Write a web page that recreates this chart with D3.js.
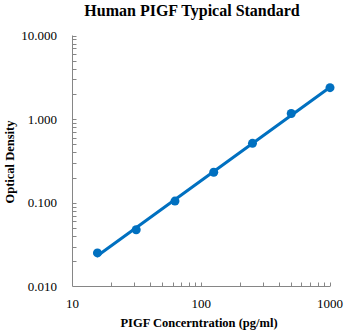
<!DOCTYPE html>
<html><head><meta charset="utf-8">
<script src="https://cdn.jsdelivr.net/npm/d3@7"></script>
<style>body{margin:0;background:#fff}</style>
</head><body>
<script>
const title = "Human PIGF Typical Standard";
const xTitle = "PIGF Concerntration (pg/ml)";
const yTitle = "Optical Density";
const concentrations = [15.625, 31.25, 62.5, 125, 250, 500, 1000];
const odValues = [0.0252, 0.0477, 0.105, 0.232, 0.514, 1.17, 2.38];
const xTickValues = [10, 100, 1000];
const yTickValues = [0.01, 0.1, 1, 10];

const W = 346, H = 334;
const svg = d3.select("body").append("svg").attr("width", W).attr("height", H)
  .style("font-family", "'Liberation Serif', 'Times New Roman', serif");
const x = d3.scaleLog().domain([10, 1000]).range([72.5, 330]);
const y = d3.scaleLog().domain([0.01, 10]).range([286.5, 35.5]);
const axisColor = "#868686";

// minor ticks
const xMinor = [], yMinor = [];
for (let d = 10; d < 1000; d *= 10) for (let k = 2; k <= 10; k++) xMinor.push(d * k);
for (let d = 0.01; d < 10; d *= 10) for (let k = 2; k <= 10; k++) yMinor.push(+(d * k).toPrecision(3));

const g = svg.append("g");
g.selectAll(".xt").data(xMinor).join("line")
  .attr("x1", d => Math.round(x(d)) + 0.5).attr("x2", d => Math.round(x(d)) + 0.5)
  .attr("y1", y(0.01)).attr("y2", y(0.01) - 4).attr("stroke", axisColor);
g.selectAll(".yt").data(yMinor).join("line")
  .attr("y1", d => Math.round(y(d)) + 0.5).attr("y2", d => Math.round(y(d)) + 0.5)
  .attr("x1", x(10)).attr("x2", x(10) + 4).attr("stroke", axisColor);
// axis lines
g.append("line").attr("x1", x(10)).attr("x2", x(1000)).attr("y1", y(0.01)).attr("y2", y(0.01)).attr("stroke", axisColor);
g.append("line").attr("x1", x(10)).attr("x2", x(10)).attr("y1", y(0.01)).attr("y2", y(10)).attr("stroke", axisColor);

// tick labels
svg.selectAll(".xl").data(xTickValues).join("text")
  .attr("x", d => x(d)).attr("y", 308).attr("text-anchor", "middle")
  .attr("font-size", 13).attr("fill", "#000").text(d => d);
svg.selectAll(".yl").data(yTickValues).join("text")
  .attr("x", 57).attr("y", d => y(d) + 4.5).attr("text-anchor", "end")
  .attr("font-size", 13).attr("fill", "#000").text(d => d3.format(".3f")(d));

// fitted line (log-log regression of the data)
const lx = concentrations.map(Math.log10), ly = odValues.map(Math.log10);
const mx = d3.mean(lx), my = d3.mean(ly);
const slope = d3.sum(lx.map((v, i) => (v - mx) * (ly[i] - my))) / d3.sum(lx.map(v => (v - mx) ** 2));
const icpt = my - slope * mx;
const fitPts = [concentrations[0], concentrations[concentrations.length - 1]]
  .map(c => [c, Math.pow(10, icpt + slope * Math.log10(c))]);
svg.append("path").datum(fitPts)
  .attr("d", d3.line().x(d => x(d[0])).y(d => y(d[1])))
  .attr("fill", "none").attr("stroke", "#0070C0").attr("stroke-width", 3).attr("stroke-linecap", "round");

svg.selectAll(".pt").data(concentrations).join("circle")
  .attr("cx", d => x(d)).attr("cy", (d, i) => y(odValues[i])).attr("r", 4.5).attr("fill", "#0070C0");

// titles
svg.append("text").attr("x", 192).attr("y", 16).attr("text-anchor", "middle")
  .attr("font-size", 16).attr("font-weight", "bold").text(title);
svg.append("text").attr("x", 199).attr("y", 327).attr("text-anchor", "middle")
  .attr("font-size", 12.5).attr("font-weight", "bold").text(xTitle);
svg.append("text").attr("transform", "translate(14,162) rotate(-90)").attr("text-anchor", "middle")
  .attr("font-size", 12.5).attr("font-weight", "bold").text(yTitle);
</script>
</body></html>
